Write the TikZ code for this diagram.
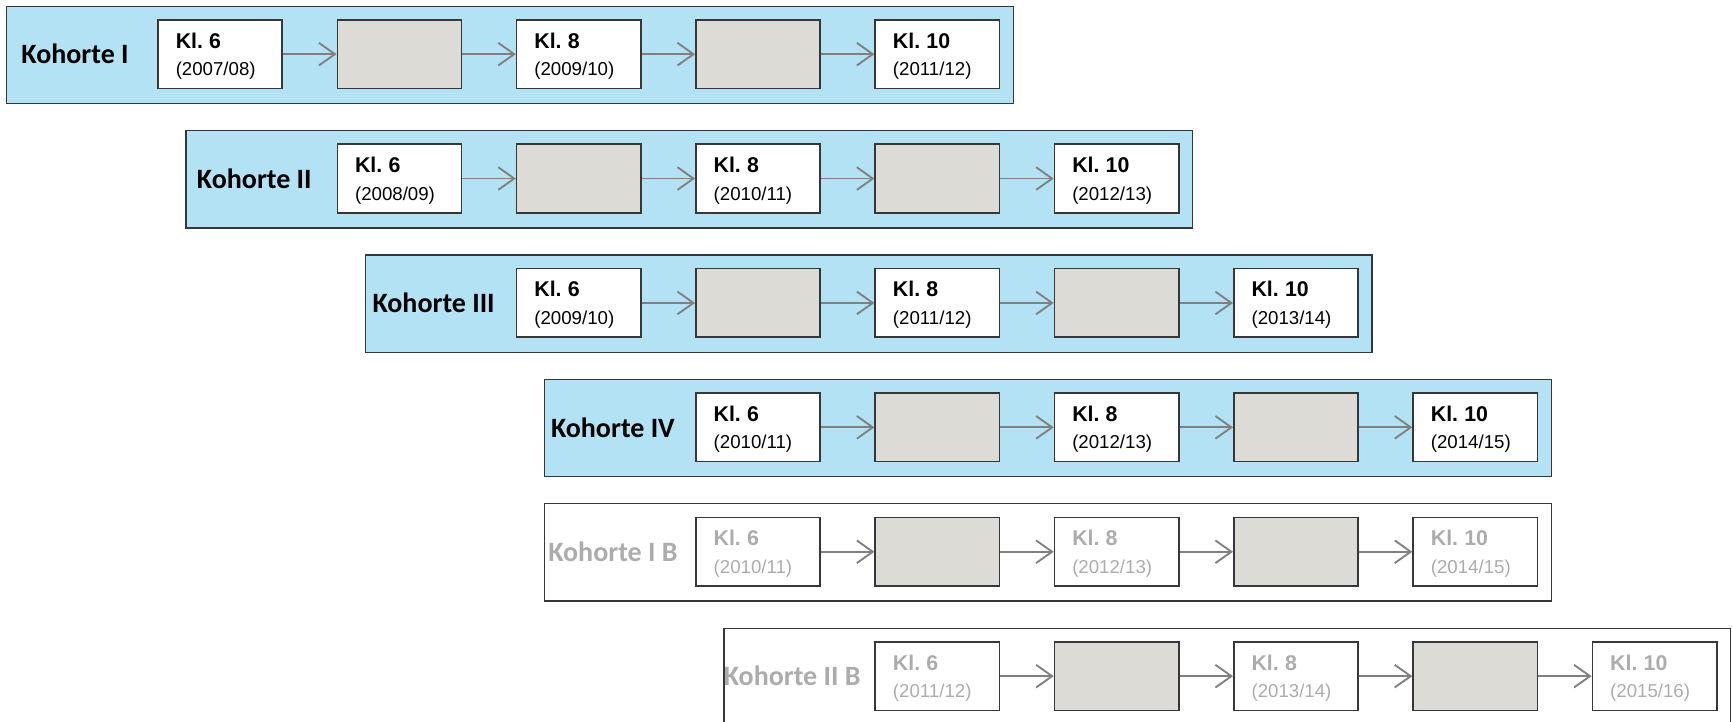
\documentclass[tikz,border=0pt]{standalone}
\usepackage{fontspec}
\setmainfont{Liberation Sans}
\newfontfamily\labelfont{Carlito}
\usetikzlibrary{arrows.meta}

\definecolor{cohortblue}{RGB}{179,226,245}
\definecolor{slotgray}{RGB}{220,219,214}
\definecolor{framegray}{RGB}{55,55,55}
\definecolor{arrowgray}{RGB}{128,128,128}
\definecolor{fadedtext}{RGB}{172,172,172}

\tikzset{
  cohort/.style={draw=framegray, line width=1pt, minimum width=755.1pt,
    minimum height=73pt, inner sep=0pt, anchor=north west},
  activeframe/.style={fill=cohortblue},
  fadedframe/.style={fill=white},
  cohortlabel/.style={font=\labelfont\bfseries\fontsize{21}{24}\selectfont, anchor=center},
  activelabel/.style={text=black},
  fadedlabel/.style={text=fadedtext},
  slot/.style={draw=framegray, line width=1.2pt, fill=white, minimum height=51.4pt,
    text width=66.6pt, inner xsep=13.3pt, inner ysep=0pt, align=left,
    text height=0pt, text depth=0pt,
    font=\fontsize{14}{20.7}\selectfont},
  gap/.style={draw=framegray, line width=1.2pt, fill=slotgray, minimum height=51.4pt,
    minimum width=93.2pt, inner sep=0pt},
  activeslot/.style={text=black},
  fadedslot/.style={text=fadedtext},
  flow/.style={draw=arrowgray, line width=1.4pt,
    -{Straight Barb[length=12pt, width=17pt, line width=1.4pt]}},
}

% two-line slot text: grade in bold, school year below;
% the grade's baseline sits 4.5pt above the slot's centre
\newcommand{\gradeyear}[2]{%
  \raisebox{4.5pt}[0pt][0pt]{\begin{tabular}[t]{@{}l@{}}%
    {\bfseries\fontsize{16}{20.7}\selectfont Kl.\ #1}\\(#2)%
  \end{tabular}}}

% one cohort row: id, row index, column shift, name, three school years, look
\newcommand{\cohortrow}[8]{%
  \pgfmathsetmacro{\rowtop}{5.5+124.4*#2}
  \pgfmathsetmacro{\rowleft}{6+179.3*#3}
  \pgfmathsetmacro{\rowmid}{\rowtop+48.65}
  \pgfmathsetmacro{\slotx}{\rowleft+152+62.15}
  \node[cohort, #8frame] (#1) at (\rowleft,\rowtop) {};
  \node[cohortlabel, #8label] (#1-name) at (\rowleft+69,\rowmid) {Kohorte #4};
  \node[slot, #8slot] (#1-a) at (\slotx,\rowmid) {\gradeyear{6}{#5}};
  \node[gap] (#1-b) at (\slotx+179.3,\rowmid) {};
  \node[slot, #8slot] (#1-c) at (\slotx+358.6,\rowmid) {\gradeyear{8}{#6}};
  \node[gap] (#1-d) at (\slotx+537.9,\rowmid) {};
  \node[slot, #8slot] (#1-e) at (\slotx+717.2,\rowmid) {\gradeyear{10}{#7}};
  \draw[flow] (#1-a) -- (#1-b);
  \draw[flow] (#1-b) -- (#1-c);
  \draw[flow] (#1-c) -- (#1-d);
  \draw[flow] (#1-d) -- (#1-e);
}

\begin{document}
\begin{tikzpicture}[x=0.75pt,y=-0.75pt]
  \useasboundingbox (0,0) rectangle (1733,721);
  \clip (0,0) rectangle (1733,721);
  \cohortrow{k1}{0}{0}{I}{2007/08}{2009/10}{2011/12}{active}
  \cohortrow{k2}{1}{1}{II}{2008/09}{2010/11}{2012/13}{active}
  \cohortrow{k3}{2}{2}{III}{2009/10}{2011/12}{2013/14}{active}
  \cohortrow{k4}{3}{3}{IV}{2010/11}{2012/13}{2014/15}{active}
  \cohortrow{k5}{4}{3}{I B}{2010/11}{2012/13}{2014/15}{faded}
  \cohortrow{k6}{5}{4}{II B}{2011/12}{2013/14}{2015/16}{faded}
\end{tikzpicture}
\end{document}
